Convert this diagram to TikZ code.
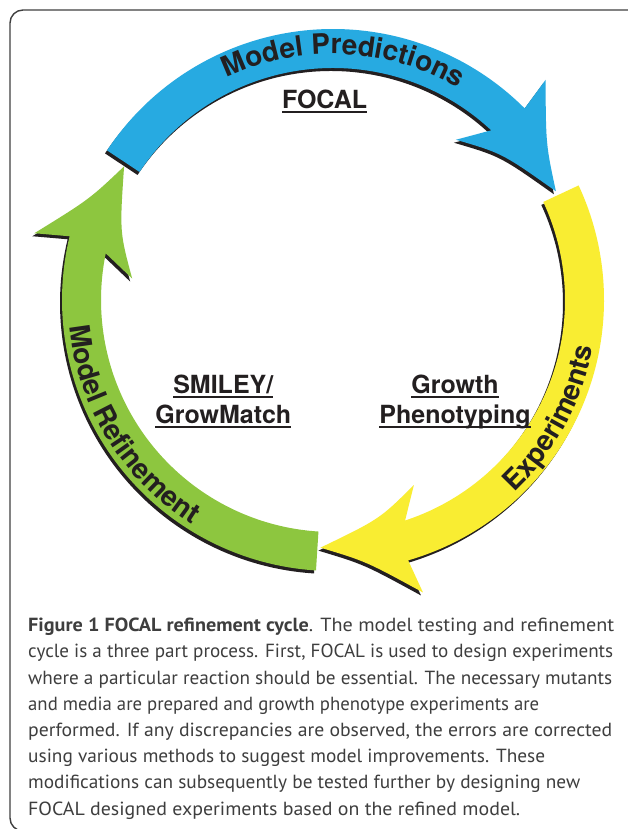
\documentclass[tikz,border=0pt]{standalone}
\usepackage{fontspec}
\usepackage{graphicx}
\setmainfont{PT Sans}
\newfontfamily\helv{TeX Gyre Heros}
\usetikzlibrary{decorations.text}
\definecolor{cblue}{RGB}{39,170,225}
\definecolor{cgreen}{RGB}{141,198,63}
\definecolor{cyellow}{RGB}{249,237,50}
\definecolor{cshadow}{RGB}{35,31,32}
\definecolor{ctext}{RGB}{35,31,32}
\definecolor{ccap}{RGB}{62,62,62}
\newcommand\ulbox[1]{\setbox0\hbox{#1}\rlap{\rule[-4.4pt]{\wd0}{1.5pt}}\box0}
\newcommand\fitline[2]{\setbox2\hbox{#2}\pgfmathsetmacro\fitratio{#1/\the\wd2}\scalebox{\fitratio}[1]{\box2}}
\newcommand\arcfont{\helv\bfseries\fontsize{28}{30}\selectfont\color{ctext}}
\newcommand\lblfont{\helv\bfseries\fontsize{25}{30}\selectfont}
% clockwise ring arrow: #1 tail angle, #2 angle where the head starts
\newcommand\ringarrow[2]{(#1:271) arc[start angle=#1, end angle=#2, radius=271]
  -- ({#2+1}:306) .. controls ({#2-8.9}:263.5) .. ({#2-19}:248)
  .. controls ({#2-4.1}:224) .. ({#2+7.5}:202) -- ({#2+2}:232)
  arc[start angle={#2+2}, end angle=#1, radius=232] -- cycle}
\tikzset{
  shadowfill/.style={fill=cshadow, shift={(-2,-3)}},
  framebox/.style={draw=black!75, line width=1.4pt, rounded corners=13},
  label/.style={anchor=base, inner sep=0pt, font=\lblfont, text=ctext},
  arctext/.style={decorate, decoration={text along path, text={|\arcfont|#1}, text align=center}}
}
\begin{document}
\begin{tikzpicture}[x=1pt, y=1pt]
\useasboundingbox (0,0) rectangle (628,829);
\clip (0,0) rectangle (628,829);
\fill[white] (0,0) rectangle (628,829);
\draw[framebox] (10,-2) rectangle (650,819);

\begin{scope}[shift={(333,529)}]
  \coordinate (ringcentre) at (0,0);
  % green: Model Refinement
  \fill[shadowfill] \ringarrow{266.4}{166.4};
  \fill[cgreen] \ringarrow{266.4}{166.4};
  % yellow: Experiments
  \fill[shadowfill] \ringarrow{25}{-73.9};
  \fill[cyellow] \ringarrow{25}{-73.9};
  % blue: Model Predictions
  \fill[shadowfill] \ringarrow{146.5}{45};
  \fill[cblue] \ringarrow{146.5}{45};

  \path[arctext={Model Predictions}] (135:246) arc[start angle=135, end angle=40, radius=246];
  \path[arctext={Model Refinement}] (171.75:265) arc[start angle=171.75, end angle=251.75, radius=265];
  \path[arctext={Experiments}] (-68.5:264) arc[start angle=-68.5, end angle=11.5, radius=264];
\end{scope}

\node[label] (focal) at (324.6,720.7) {\ulbox{FOCAL}};
\node[label] (smiley) at (223.3,435.7) {\begin{tabular}[t]{@{}c@{}}\ulbox{SMILEY/}\\ \ulbox{GrowMatch}\end{tabular}};
\node[label] (growth) at (455,435.7) {\begin{tabular}[t]{@{}c@{}}\ulbox{Growth}\\ \ulbox{Phenotyping}\end{tabular}};

\node[anchor=base west, inner sep=0pt, text=ccap, font=\fontsize{19}{26.2}\selectfont] (caption) at (28,197.3)
{\begin{tabular}[t]{@{}l@{}}
\fitline{586}{\textbf{Figure 1 FOCAL refinement cycle}. The model testing and refinement}\\
\fitline{585}{cycle is a three part process. First, FOCAL is used to design experiments}\\
\fitline{584}{where a particular reaction should be essential. The necessary mutants}\\
\fitline{511}{and media are prepared and growth phenotype experiments are}\\
\fitline{584}{performed. If any discrepancies are observed, the errors are corrected}\\
\fitline{517}{using various methods to suggest model improvements. These}\\
\fitline{552}{modifications can subsequently be tested further by designing new}\\
\fitline{492}{FOCAL designed experiments based on the refined model.}
\end{tabular}};
\end{tikzpicture}
\end{document}
